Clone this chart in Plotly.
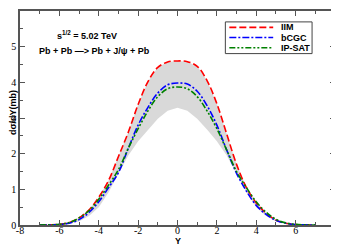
import plotly.graph_objects as go

Y = [-7, -6.5, -6, -5.5, -5, -4.5, -4, -3.5, -3, -2.5, -2, -1.5, -1, -0.5, 0,
     0.5, 1, 1.5, 2, 2.5, 3, 3.5, 4, 4.5, 5, 5.5, 6, 6.5, 7]
iim = [0, 0.005, 0.02, 0.07, 0.2, 0.42, 0.78, 1.25, 1.92, 2.6, 3.38, 4.02, 4.42, 4.57, 4.6,
       4.58, 4.45, 4.05, 3.4, 2.55, 1.7, 1.05, 0.62, 0.33, 0.14, 0.05, 0.015, 0.003, 0]
bcgc = [0, 0.003, 0.015, 0.05, 0.15, 0.35, 0.65, 1.05, 1.47, 2.15, 2.8, 3.3, 3.7, 3.93, 3.98,
        3.95, 3.75, 3.35, 2.8, 2.1, 1.45, 0.95, 0.55, 0.3, 0.13, 0.05, 0.012, 0.003, 0]
ipsat = [0, 0.005, 0.02, 0.07, 0.2, 0.4, 0.72, 1.12, 1.55, 2.15, 2.7, 3.2, 3.6, 3.82, 3.87,
         3.82, 3.6, 3.2, 2.7, 2.1, 1.5, 1.05, 0.65, 0.36, 0.16, 0.06, 0.018, 0.004, 0]
band_low = [0, 0.002, 0.01, 0.04, 0.1, 0.25, 0.5, 0.92, 1.42, 1.95, 2.35, 2.68, 2.98, 3.2, 3.29,
            3.2, 2.98, 2.68, 2.35, 1.95, 1.42, 0.92, 0.5, 0.25, 0.1, 0.04, 0.01, 0.002, 0]
band_high = iim

series_names = ["IIM", "bCGC", "IP-SAT"]
x_ticks = [-8, -6, -4, -2, 0, 2, 4, 6, 8]
y_ticks = [0, 1, 2, 3, 4, 5, 6]

COLORS = ["#ff0000", "#0000ff", "#008000"]
DASHES = ["7px,3px", "7px,2px,2px,2px", "6px,2px,2px,2px,2px,2px"]

# page (browser) pixel -> paper coordinates; figure sits at (8, 8) inside the page body
PL, PR, PT, PB = 20, 336, 9, 225


def px(xp):
    return (xp - PL) / (PR - PL)


def py(yp):
    return 1 - (yp - PT) / (PB - PT)


fig = go.Figure()
fig.add_trace(go.Scatter(x=Y, y=band_low, mode="lines", line=dict(width=0, color="#d9d9d9"),
                         showlegend=False, hoverinfo="skip"))
fig.add_trace(go.Scatter(x=Y, y=band_high, mode="lines", line=dict(width=0, color="#d9d9d9"),
                         fill="tonexty", fillcolor="#d9d9d9", showlegend=False, hoverinfo="skip"))
for name, vals, col, dash in zip(series_names, [iim, bcgc, ipsat], COLORS, DASHES):
    fig.add_trace(go.Scatter(x=Y, y=vals, mode="lines", name=name, line_shape="spline",
                             showlegend=False,
                             line=dict(color=col, width=1.6, dash=dash)))

axis_common = dict(showline=True, linecolor="#555555", linewidth=1.5, mirror="allticks",
                   ticks="inside", ticklen=5, tickwidth=1, tickcolor="#555555",
                   showgrid=False, zeroline=False,
                   tickfont=dict(family="Liberation Serif", size=10, color="black"))

fig.update_xaxes(range=[-8, 8], tickvals=x_ticks, ticktext=[str(v) for v in x_ticks],
                 minor=dict(ticks="inside", ticklen=3, dtick=1, tickcolor="#555555"),
                 ticklabelstandoff=-5,
                 **axis_common)
fig.update_yaxes(range=[0, 6], tickvals=y_ticks, ticktext=[str(v) for v in y_ticks],
                 minor=dict(ticks="inside", ticklen=3, dtick=0.5, tickcolor="#555555"),
                 **axis_common)

bold = dict(family="Liberation Sans", size=9, color="black", weight="bold")
fig.add_annotation(text="s<sup>1/2</sup> = 5.02 TeV", xref="paper", yref="paper",
                   x=px(55), y=py(33), xanchor="left", yanchor="middle",
                   showarrow=False, font=bold)
fig.add_annotation(text="Pb + Pb —> Pb + J/ψ + Pb", xref="paper", yref="paper",
                   x=px(37), y=py(49), xanchor="left", yanchor="middle",
                   showarrow=False, font=bold)
fig.add_annotation(text="dσ/dY(mb)", xref="paper", yref="paper", textangle=-90,
                   x=px(13), y=py(112), xanchor="center", yanchor="middle",
                   showarrow=False, font=bold)
fig.add_annotation(text="Y", xref="paper", yref="paper",
                   x=px(178), y=py(241), xanchor="center", yanchor="middle",
                   showarrow=False, font=bold)

# legend box drawn by hand so its compact spacing matches
fig.add_shape(type="rect", xref="paper", yref="paper", x0=px(226), x1=px(313),
              y0=py(52), y1=py(20), line=dict(color="#444444", width=1), fillcolor="white",
              layer="above")
for i, (name, col, dash) in enumerate(zip(series_names, COLORS, DASHES)):
    yy = 25.5 + i * 10.3
    fig.add_shape(type="line", xref="paper", yref="paper", x0=px(230), x1=px(274),
                  y0=py(yy), y1=py(yy), line=dict(color=col, width=1.6, dash=dash),
                  layer="above")
    fig.add_annotation(text=name, xref="paper", yref="paper", x=px(280), y=py(yy),
                       xanchor="left", yanchor="middle", showarrow=False, font=bold)

fig.update_layout(
    width=331, height=237,
    margin=dict(l=PL - 8, r=339 - PR, t=PT - 8, b=237 + 8 - PB),
    paper_bgcolor="white", plot_bgcolor="white",
    showlegend=False,
)

fig.write_html("out.html")
